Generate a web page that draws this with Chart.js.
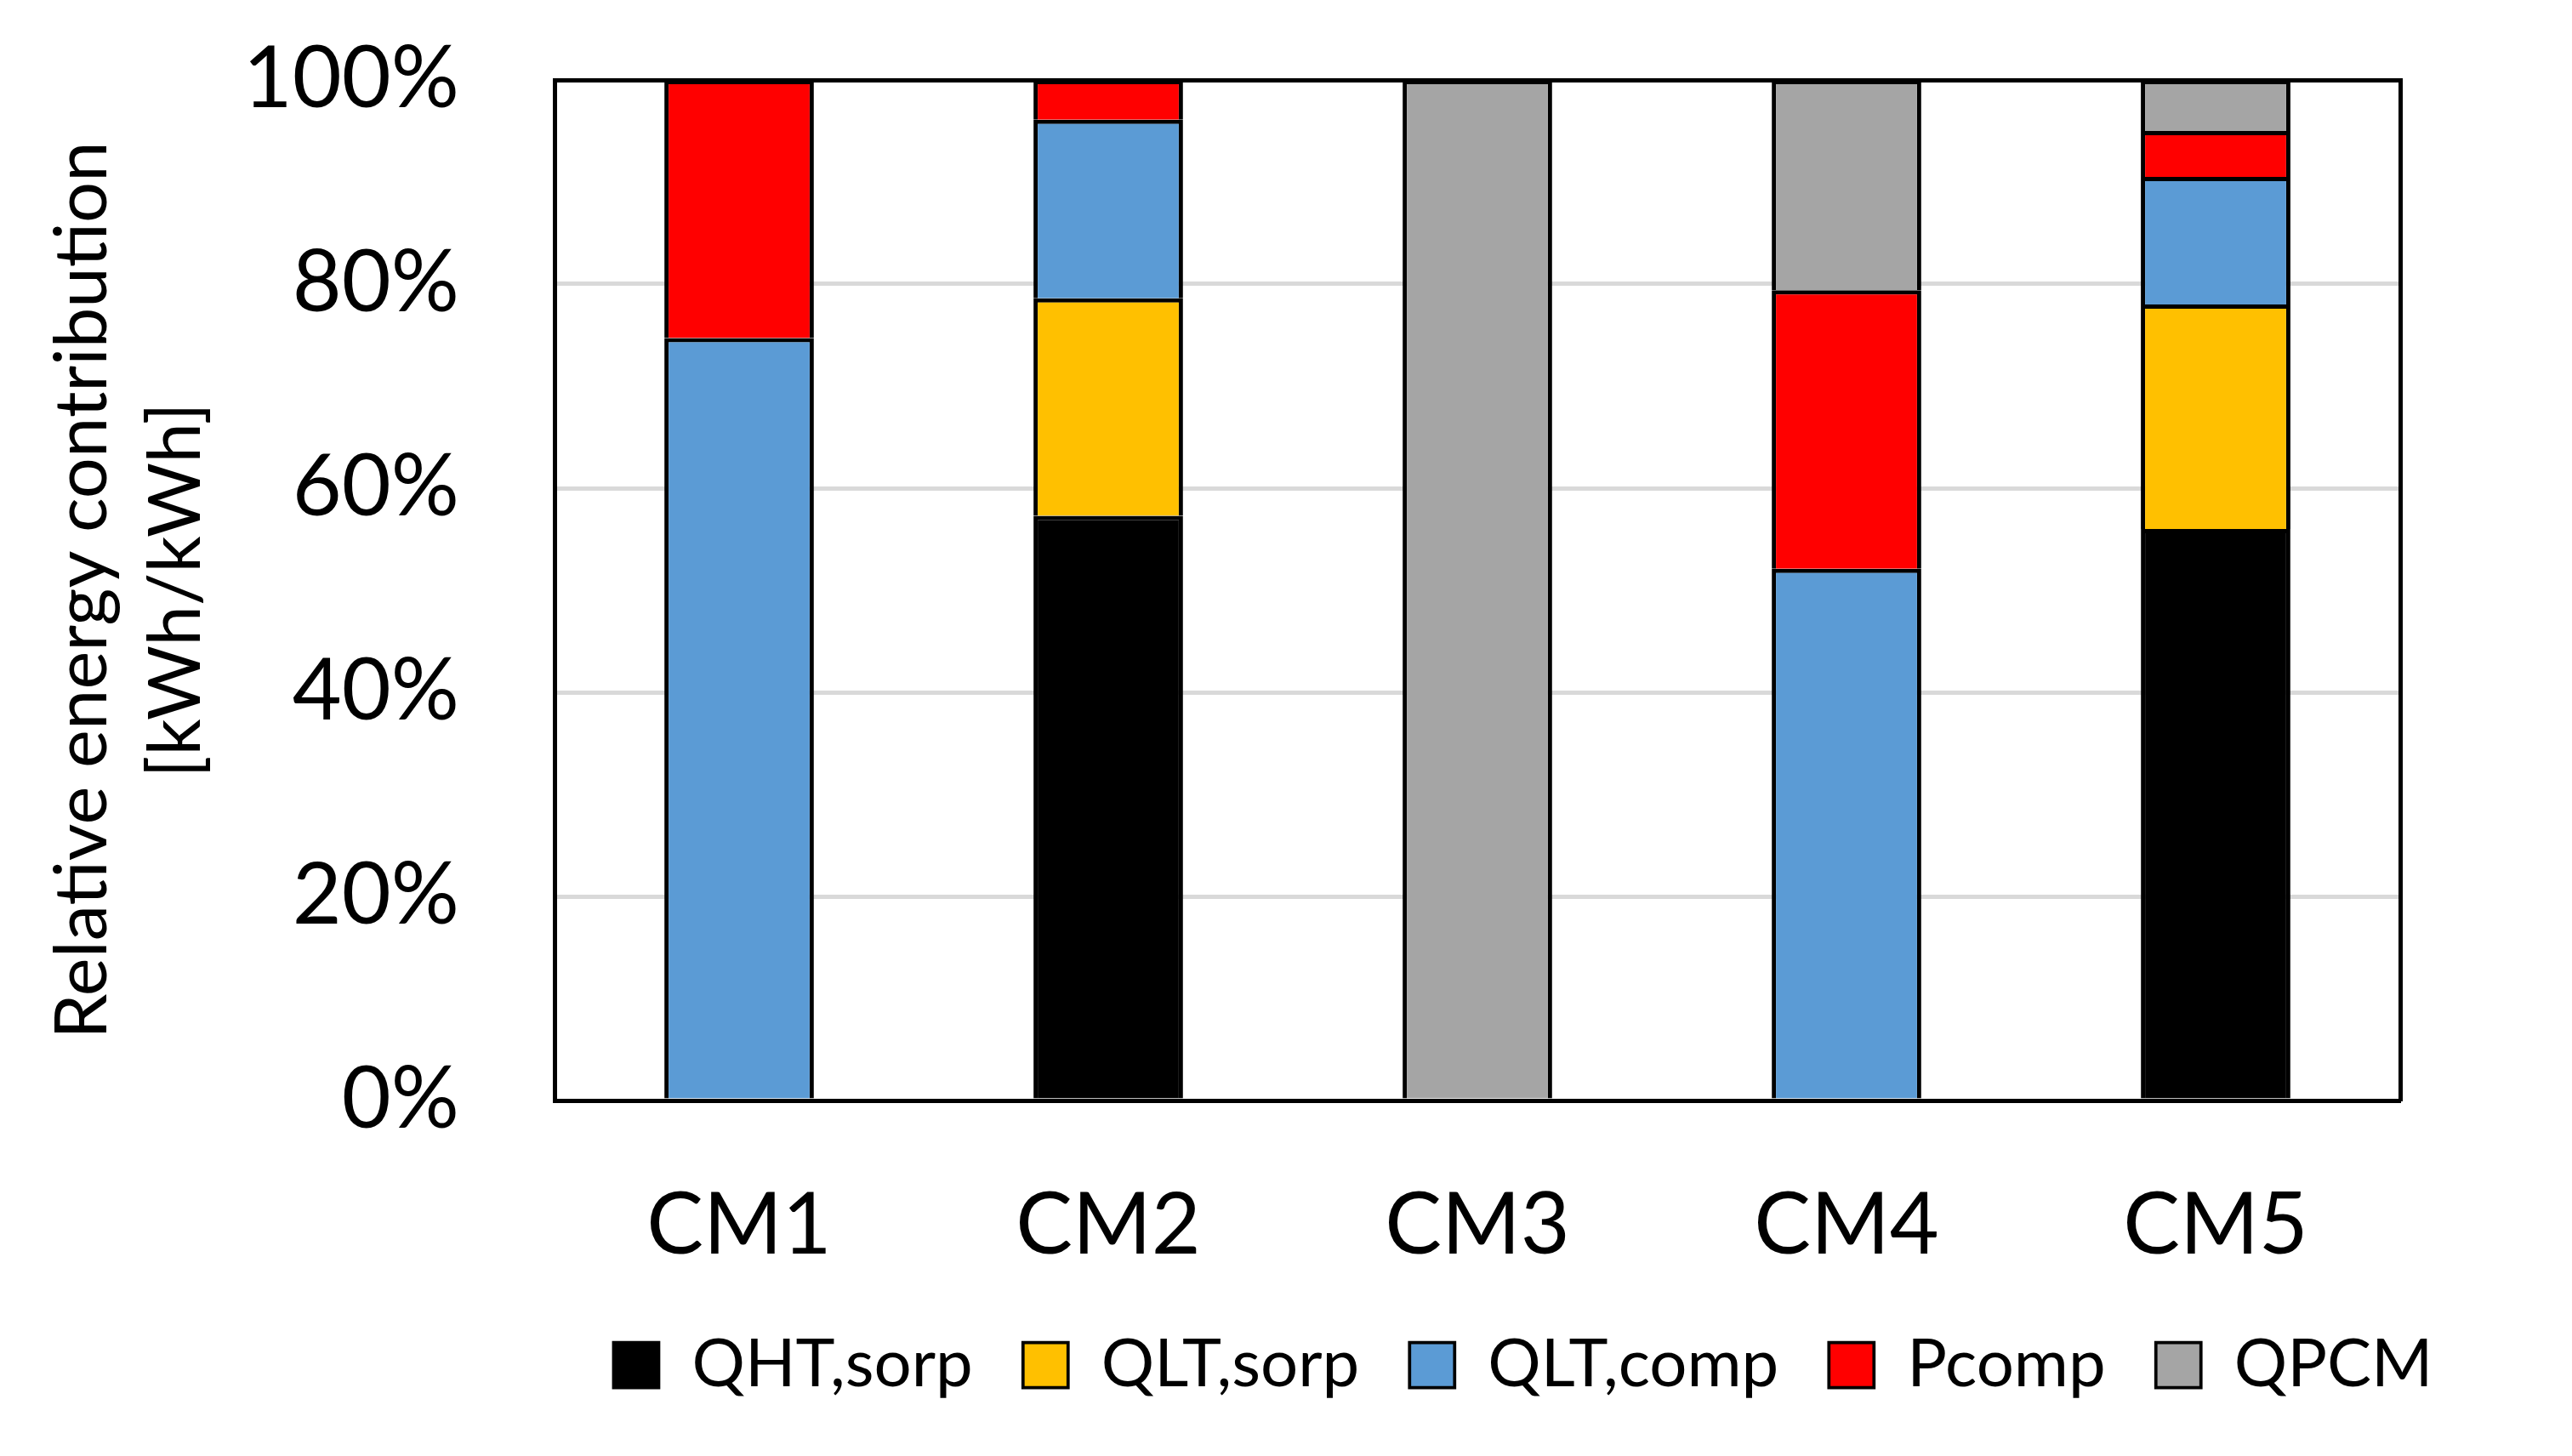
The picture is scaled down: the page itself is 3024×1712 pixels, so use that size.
<!DOCTYPE html>
<html>
<head>
<meta charset="utf-8">
<title>Relative energy contribution</title>
<script src="https://cdn.jsdelivr.net/npm/chart.js@4"></script>
<style>
  html, body { margin: 0; padding: 0; background: #fff; }
  #wrap { width: 3024px; height: 1712px; }
</style>
</head>
<body>
<div id="wrap"><canvas id="myChart" width="3024" height="1712"></canvas></div>
<script>
"use strict";
// values, in % of the total per case
const categories = ["CM1", "CM2", "CM3", "CM4", "CM5"];
const seriesNames = ["QHT,sorp", "QLT,sorp", "QLT,comp", "Pcomp", "QPCM"];
const qhtSorp = [null, 57.3, null, null, 56.0];
const qltSorp = [null, 21.3, null, null, 22.0];
const qltComp = [74.7, 17.5, null, 52.1, 12.5];
const pComp   = [25.3, 3.9, null, 27.3, 4.5];
const qPcm    = [null, null, 100, 20.6, 5.0];
const yTickStep = 20;
const seriesColors = ["#000000", "#FFC000", "#5B9BD5", "#FF0000", "#A5A5A5"];

const legendCenterX = 1791;

Chart.defaults.font.family = "Lato";
Chart.defaults.color = "#000";

let canvas = document.getElementById("myChart");
const ctx = canvas.getContext("2d");

// legend is centred a bit to the right of the canvas, like the original
const moveLegend = {
    id: "moveLegend",
    afterLayout(chart) {
        const lg = chart.legend;
        const dx = legendCenterX - (lg.left + lg.right) / 2;
        lg.left += dx;
        lg.right += dx;
    }
};

function start() {
    const seriesValues = [qhtSorp, qltSorp, qltComp, pComp, qPcm];
    const datasets = [];
    for (let i = 0; i < seriesNames.length; i++) {
        datasets.push(makeDataset(seriesNames[i], seriesValues[i], seriesColors[i]));
    }
    drawChart(datasets);
}

function makeDataset(name, values, color) {
    return {
        label: name,
        data: values,
        backgroundColor: color,
        borderColor: "#000",
        borderWidth: { top: 5, right: 5, bottom: 0, left: 5 },
        borderSkipped: false,
        barPercentage: 0.405,
        categoryPercentage: 1
    };
}

function drawChart(datasets) {
    new Chart(ctx, {
        type: "bar",
        data: { labels: categories, datasets: datasets },
        plugins: [moveLegend],
        options: {
            responsive: false,
            animation: false,
            layout: { padding: { left: 40, right: 202, top: 94, bottom: 58 } },
            plugins: {
                tooltip: { enabled: false },
                legend: {
                    position: "bottom",
                    labels: {
                        boxWidth: 53,
                        boxHeight: 53,
                        padding: 59,
                        font: { size: 78 }
                    }
                }
            },
            scales: {
                x: {
                    stacked: true,
                    grid: { display: false, drawTicks: false },
                    border: { display: true, color: "#000", width: 5 },
                    ticks: { padding: 88, font: { size: 100 } },
                    afterFit: (scale) => { scale.height = 213; }
                },
                y: {
                    stacked: true,
                    min: 0,
                    max: 100,
                    // invisible tick marks keep the labels away from the axis
                    grid: {
                        color: "#D9D9D9",
                        lineWidth: 5,
                        drawTicks: true,
                        tickLength: 112,
                        tickColor: "rgba(0,0,0,0)"
                    },
                    border: { display: true, color: "#000", width: 5 },
                    ticks: {
                        stepSize: yTickStep,
                        padding: 0,
                        font: { size: 100 },
                        callback: (v) => v + "%"
                    },
                    title: {
                        display: true,
                        text: ["Relative energy contribution", "[kWh/kWh]"],
                        font: { size: 85, lineHeight: 1.3 },
                        padding: { top: 2, bottom: 0 }
                    },
                    afterFit: (scale) => { scale.width = 612; }
                },
                xTop: {
                    position: "top",
                    grid: { display: false, drawTicks: false },
                    border: { display: true, color: "#000", width: 5 },
                    ticks: { display: false }
                },
                yRight: {
                    position: "right",
                    min: 0,
                    max: 100,
                    grid: { display: false, drawTicks: false },
                    border: { display: true, color: "#000", width: 5 },
                    ticks: { display: false }
                }
            }
        }
    });
}

start();
</script>
</body>
</html>
